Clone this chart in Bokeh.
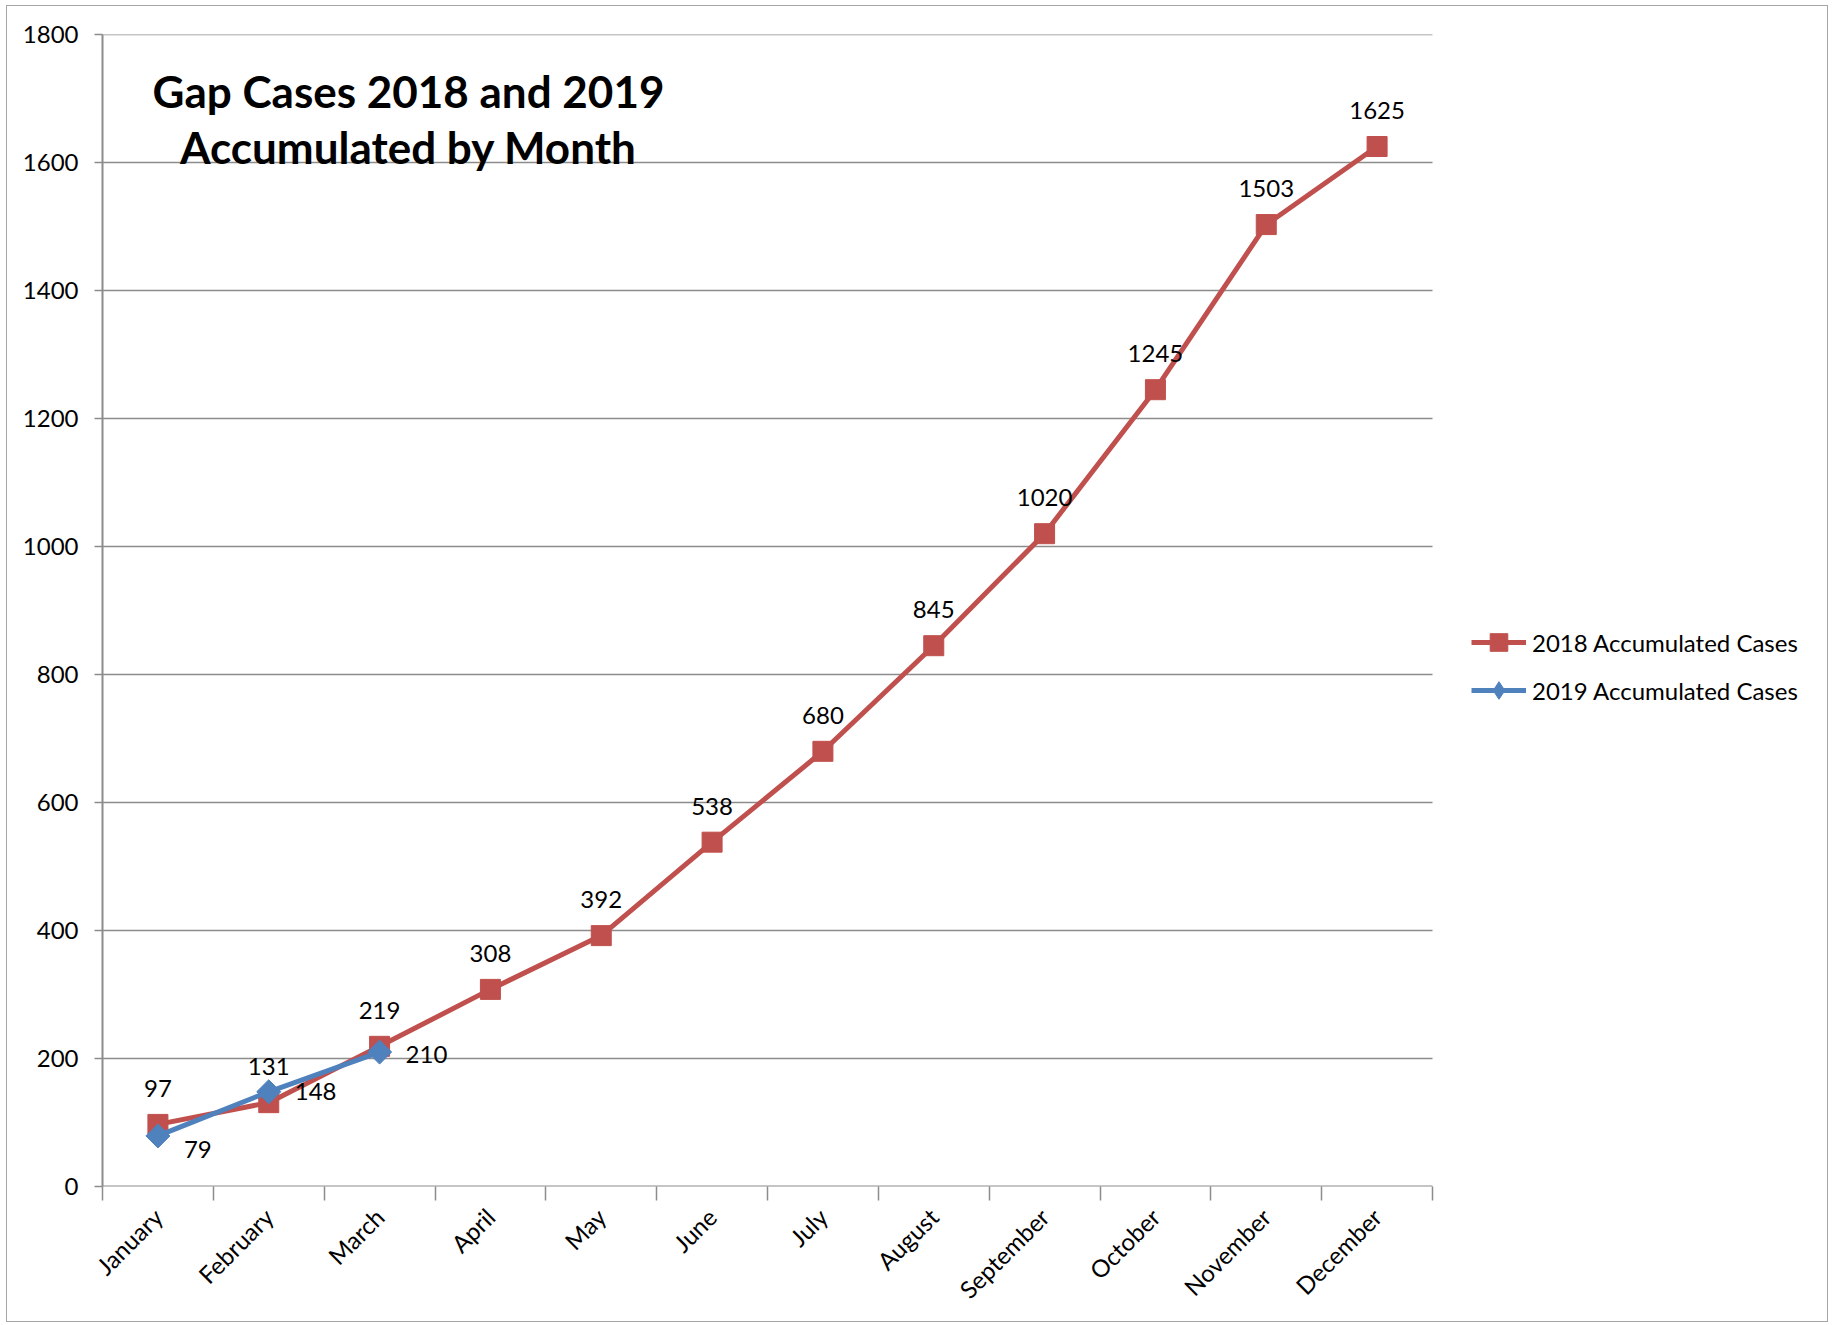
from bokeh.plotting import figure
from bokeh.models import (ColumnDataSource, Range1d, FixedTicker, Legend, LegendItem, Label)
from bokeh.core.properties import value
from bokeh.embed import file_html
from bokeh.resources import INLINE
import math

months = ["January", "February", "March", "April", "May", "June", "July",
          "August", "September", "October", "November", "December"]
cases_2018 = [97, 131, 219, 308, 392, 538, 680, 845, 1020, 1245, 1503, 1625]
cases_2019 = [79, 148, 210]
y_ticks = [0, 200, 400, 600, 800, 1000, 1200, 1400, 1600, 1800]
title_lines = ["Gap Cases 2018 and 2019", "Accumulated by Month"]
series_names = ["2018 Accumulated Cases", "2019 Accumulated Cases"]

RED = "#C0504D"
BLUE = "#4F81BD"
GRID = "#8c8c8c"
FONT = "Lato"

# figure is shifted by a CSS margin (6px left, 5px top) plus a 1px border
W, H = 1822, 1317
FL, FT, FR, FB = 95, 28, 1425, 1180   # plot-area edges in canvas pixels
FR_FULL = W - 2
n = len(months)
x_end = n * (FR_FULL - FL) / (FR - FL)

p = figure(width=W, height=H, output_backend="svg", toolbar_location=None,
           x_range=Range1d(0, x_end), y_range=Range1d(0, 1800),
           min_border_left=FL, min_border_right=W - FR_FULL,
           min_border_top=FT, min_border_bottom=H - FB)
p.styles = {"border": "1px solid #a6a6a6", "margin-left": "6px", "margin-top": "5px"}
p.outline_line_color = None
p.background_fill_color = "white"

xc = [i + 0.5 for i in range(n)]
src18 = ColumnDataSource(dict(x=xc, y=cases_2018, t=[str(v) for v in cases_2018]))
n19 = len(cases_2019)
src19 = ColumnDataSource(dict(x=xc[:n19], y=cases_2019, t=[str(v) for v in cases_2019],
                              dy=[14, 0, 2]))

# grid lines limited to the category span
p.xgrid.visible = False
p.ygrid.visible = False
grid_src = ColumnDataSource(dict(x0=[0] * (len(y_ticks) - 1), x1=[n] * (len(y_ticks) - 1),
                                 y=y_ticks[1:]))
p.segment("x0", "y", "x1", "y", source=grid_src, line_color=GRID, line_width=1.5)
p.segment(x0=[0], y0=[0], x1=[n], y1=[0], line_color=GRID, line_width=2)

# axes
xa = p.xaxis[0]
xa.ticker = FixedTicker(ticks=xc, minor_ticks=list(range(n + 1)))
xa.major_label_overrides = {x: m for x, m in zip(xc, months)}
xa.major_tick_out = 0
xa.major_tick_in = 0
xa.minor_tick_out = 14
xa.minor_tick_in = 0
xa.minor_tick_line_color = GRID
xa.minor_tick_line_width = 1.5
xa.axis_line_color = None
xa.major_label_orientation = math.pi / 4
xa.major_label_standoff = 12
xa.major_label_text_font = FONT
xa.major_label_text_font_size = "24px"
xa.major_label_text_color = "black"

ya = p.yaxis[0]
ya.ticker = FixedTicker(ticks=y_ticks)
ya.minor_tick_line_color = None
ya.major_tick_out = 8
ya.major_tick_in = 0
ya.major_tick_line_color = GRID
ya.major_tick_line_width = 1.5
ya.axis_line_color = GRID
ya.axis_line_width = 2
ya.major_label_standoff = 16
ya.major_label_text_font = FONT
ya.major_label_text_font_size = "24px"
ya.major_label_text_color = "black"

# series
l18 = p.line("x", "y", source=src18, line_color=RED, line_width=5)
m18 = p.scatter("x", "y", source=src18, marker="square", size=20,
                fill_color=RED, line_color=RED)
l19 = p.line("x", "y", source=src19, line_color=BLUE, line_width=5)
m19 = p.scatter("x", "y", source=src19, marker="square", angle=math.pi / 4, size=17,
                fill_color=BLUE, line_color=BLUE)
# legend-only diamond glyph (a single undrawn NaN point)
leg19 = p.scatter(x=[float("nan")], y=[float("nan")], marker="diamond", size=22,
                  fill_color=BLUE, line_color=BLUE)

# data labels
p.text("x", "y", text="t", source=src18, text_align="center", text_baseline="middle",
       y_offset=-36, text_font=value(FONT), text_font_size="24px", text_color="black")
p.text("x", "y", text="t", source=src19, text_align="left", text_baseline="middle",
       x_offset=26, y_offset="dy", text_font=value(FONT), text_font_size="24px",
       text_color="black")

# title
for txt, yy in zip(title_lines, [1096, 1040]):
    p.add_layout(Label(x=306, y=yy, x_units="screen", y_units="screen", text=txt,
                       text_align="center", text_baseline="alphabetic",
                       text_font=FONT, text_font_style="bold", text_font_size="44px",
                       text_color="black"))

legend = Legend(items=[LegendItem(label=series_names[0], renderers=[l18, m18]),
                       LegendItem(label=series_names[1], renderers=[l19, leg19])],
                location=(1369, 474), orientation="vertical",
                glyph_width=55, glyph_height=44, label_height=24, spacing=4,
                padding=0, margin=0, label_standoff=6,
                label_text_font=FONT, label_text_font_size="24px",
                label_text_color="black", border_line_color=None,
                background_fill_alpha=0)
p.add_layout(legend)

open("out.html", "w").write(file_html(p, INLINE))
